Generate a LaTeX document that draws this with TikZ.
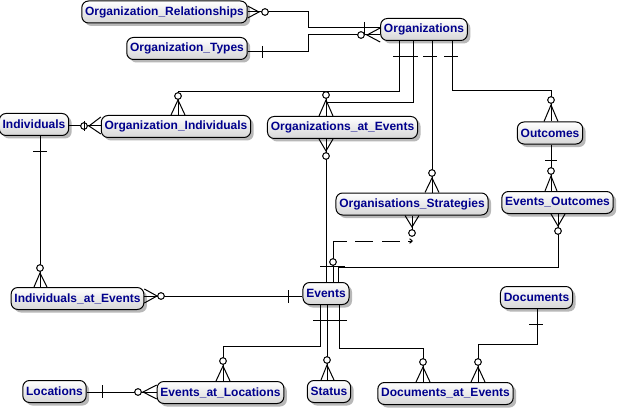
\documentclass[tikz,border=0pt]{standalone}
\usepackage{fontspec}
\setmainfont{Liberation Sans}
\usetikzlibrary{shadows,arrows.meta}
\definecolor{entblue}{RGB}{0,0,140}
\newcommand\entfont{\fontsize{9pt}{10pt}\selectfont\bfseries}
\newcommand\ercrow[3]{\draw[rel] #2 -- #1 -- #3;}
\newcommand\erzero[1]{\draw[rel,fill=white] #1 circle (2.5pt);}
\begin{document}
\begin{tikzpicture}[x=0.75pt,y=-0.75pt,
  rel/.style={line width=0.75pt},
  ent/.style={draw, line width=0.75pt, rounded corners=5pt,
    top color=white, bottom color=black!16, text=entblue, font=\entfont,
    inner xsep=2.5pt, inner ysep=0pt, minimum height=16.5pt,
    drop shadow={shadow xshift=2.25pt, shadow yshift=-2.25pt, fill=black!28, opacity=1}}]
\useasboundingbox (0,0) rectangle (618,410);
\fill[white] (0,0) rectangle (618,410);

% entities
\node[ent] (orgrel) at (164.5,12) {Organization\_Relationships};
\node[ent] (orgtypes) at (187,48.5) {Organization\_Types};
\node[ent] (orgs) at (424,29.5) {Organizations};
\node[ent] (indiv) at (34,124.5) {Individuals};
\node[ent] (orgind) at (176,126.5) {Organization\_Individuals};
\node[ent] (orgevt) at (342.5,127.5) {Organizations\_at\_Events};
\node[ent] (outcomes) at (550,133) {Outcomes};
\node[ent] (orgstrat) at (412,204) {Organisations\_Strategies};
\node[ent] (evout) at (557.5,202.5) {Events\_Outcomes};
\node[ent] (indevt) at (77.5,298.5) {Individuals\_at\_Events};
\node[ent] (events) at (326,293.5) {Events};
\node[ent] (documents) at (536.5,297.5) {Documents};
\node[ent] (locations) at (54.5,391.5) {Locations};
\node[ent] (evloc) at (220.5,392.5) {Events\_at\_Locations};
\node[ent] (status) at (329,391.5) {Status};
\node[ent] (docevt) at (445.5,393.5) {Documents\_at\_Events};

% Organization_Relationships -- Organizations
\draw[rel] (orgrel.east) -- (308,12) -- (308,28) -- (orgs.west |- 0,28);
\ercrow{(259,12)}{(orgrel.east |- 0,6)}{(orgrel.east |- 0,18)}
\draw[rel] (364,22) -- (364,34);
\erzero{(265,12)}

% Organization_Types -- Organizations
\draw[rel] (orgtypes.east |- 0,52) -- (308,52) -- (308,35) -- (orgs.west |- 0,35);
\draw[rel] (262,46) -- (262,58);
\ercrow{(367,35)}{(orgs.west |- 0,28)}{(orgs.west |- 0,42)}
\erzero{(361,35)}

% Organizations -- Organization_Individuals
\draw[rel] (orgs.south -| 399,0) -- (399,92) -- (178,92) -- (orgind.north -| 178,0);
\ercrow{(178,100)}{(orgind.north -| 171,0)}{(orgind.north -| 185,0)}
\erzero{(178,96)}

% Organizations -- Organizations_at_Events
\draw[rel] (orgs.south -| 413,0) -- (413,103) -- (326,103) -- (orgevt.north -| 326,0);
\draw[rel] (326,95) -- (326,103);
\ercrow{(326,100)}{(orgevt.north -| 319,0)}{(orgevt.north -| 333,0)}
\erzero{(326,95)}

% Organizations -- Organisations_Strategies
\draw[rel] (orgs.south -| 432,0) -- (orgstrat.north -| 432,0);
\ercrow{(432,178)}{(orgstrat.north -| 425,0)}{(orgstrat.north -| 439,0)}
\erzero{(432,173)}

% Organizations -- Outcomes
\draw[rel] (orgs.south -| 452,0) -- (452,91) -- (551,91) -- (outcomes.north -| 551,0);
\ercrow{(551,105)}{(outcomes.north -| 544,0)}{(outcomes.north -| 558,0)}
\erzero{(551,100)}

% bars under Organizations
\draw[rel] (393,57) -- (418,57) (423,57) -- (437,57) (444,57) -- (458,57);

% Individuals -- Organization_Individuals
\draw[rel] (indiv.east |- 0,126) -- (orgind.west |- 0,126);
\ercrow{(89,126)}{(orgind.west |- 0,117)}{(orgind.west |- 0,134)}
\erzero{(84,126)}
\draw[rel] (84,121) -- (84,131);

% Individuals -- Individuals_at_Events
\draw[rel] (indiv.south -| 40,0) -- (indevt.north -| 40,0);
\draw[rel] (33,151) -- (47,151);
\ercrow{(40,273)}{(indevt.north -| 34,0)}{(indevt.north -| 47,0)}
\erzero{(40,268)}

% Individuals_at_Events -- Events
\draw[rel] (indevt.east |- 0,296) -- (events.west |- 0,296);
\ercrow{(157,296)}{(indevt.east |- 0,289)}{(indevt.east |- 0,303)}
\erzero{(161,296)}
\draw[rel] (288,290) -- (288,303);

% Organizations_at_Events -- Events
\draw[rel] (orgevt.south -| 326,0) -- (events.north -| 326,0);
\ercrow{(326,151)}{(orgevt.south -| 319,0)}{(orgevt.south -| 333,0)}
\erzero{(326,156)}

% Events -- Organisations_Strategies (dashed)
\draw[rel, dash pattern=on 41.25pt off 6pt on 13.5pt off 6.75pt on 13.5pt off 6pt on 10pt,
  -{Straight Barb[length=2pt,width=3.5pt]}]
  (events.north -| 333,0) -- (333,241) -- (413,241);
\erzero{(333,262)}
\draw[rel] (orgstrat.south -| 412,0) -- (412,233);
\ercrow{(412,227)}{(orgstrat.south -| 405,0)}{(orgstrat.south -| 419,0)}
\erzero{(412,233)}

% Events_Outcomes -- Events
\draw[rel] (evout.south -| 558,0) -- (558,267) -- (338,267) -- (events.north -| 338,0);
\ercrow{(558,226)}{(evout.south -| 551,0)}{(evout.south -| 565,0)}
\erzero{(558,231)}
\draw[rel] (320,266) -- (345,266);

% Events -- Events_at_Locations
\draw[rel] (events.south -| 320,0) -- (320,346) -- (223,346) -- (evloc.north -| 223,0);
\ercrow{(223,366)}{(evloc.north -| 216,0)}{(evloc.north -| 230,0)}
\erzero{(223,361)}

% Events -- Status
\draw[rel] (events.south -| 327,0) -- (status.north -| 327,0);
\ercrow{(327,365)}{(status.north -| 321,0)}{(status.north -| 334,0)}
\erzero{(327,360)}

% Events -- Documents_at_Events
\draw[rel] (events.south -| 339,0) -- (339,348) -- (423,348) -- (docevt.north -| 423,0);
\ercrow{(423,367)}{(docevt.north -| 416,0)}{(docevt.north -| 430,0)}
\erzero{(423,362)}
\draw[rel] (313,320) -- (347,320);

% Documents -- Documents_at_Events
\draw[rel] (documents.south -| 537,0) -- (537,344) -- (478,344) -- (docevt.north -| 478,0);
\draw[rel] (529,324) -- (543,324);
\ercrow{(478,367)}{(docevt.north -| 471,0)}{(docevt.north -| 485,0)}
\erzero{(478,362)}

% Locations -- Events_at_Locations
\draw[rel] (locations.east |- 0,392) -- (evloc.west |- 0,392);
\draw[rel] (102,385) -- (102,398);
\ercrow{(143,392)}{(evloc.west |- 0,385)}{(evloc.west |- 0,399)}
\erzero{(138,392)}

% Outcomes -- Events_Outcomes
\draw[rel] (outcomes.south -| 551,0) -- (evout.north -| 551,0);
\draw[rel] (545,160) -- (557,160);
\ercrow{(551,176)}{(evout.north -| 545,0)}{(evout.north -| 557,0)}
\erzero{(551,171)}
\end{tikzpicture}
\end{document}
